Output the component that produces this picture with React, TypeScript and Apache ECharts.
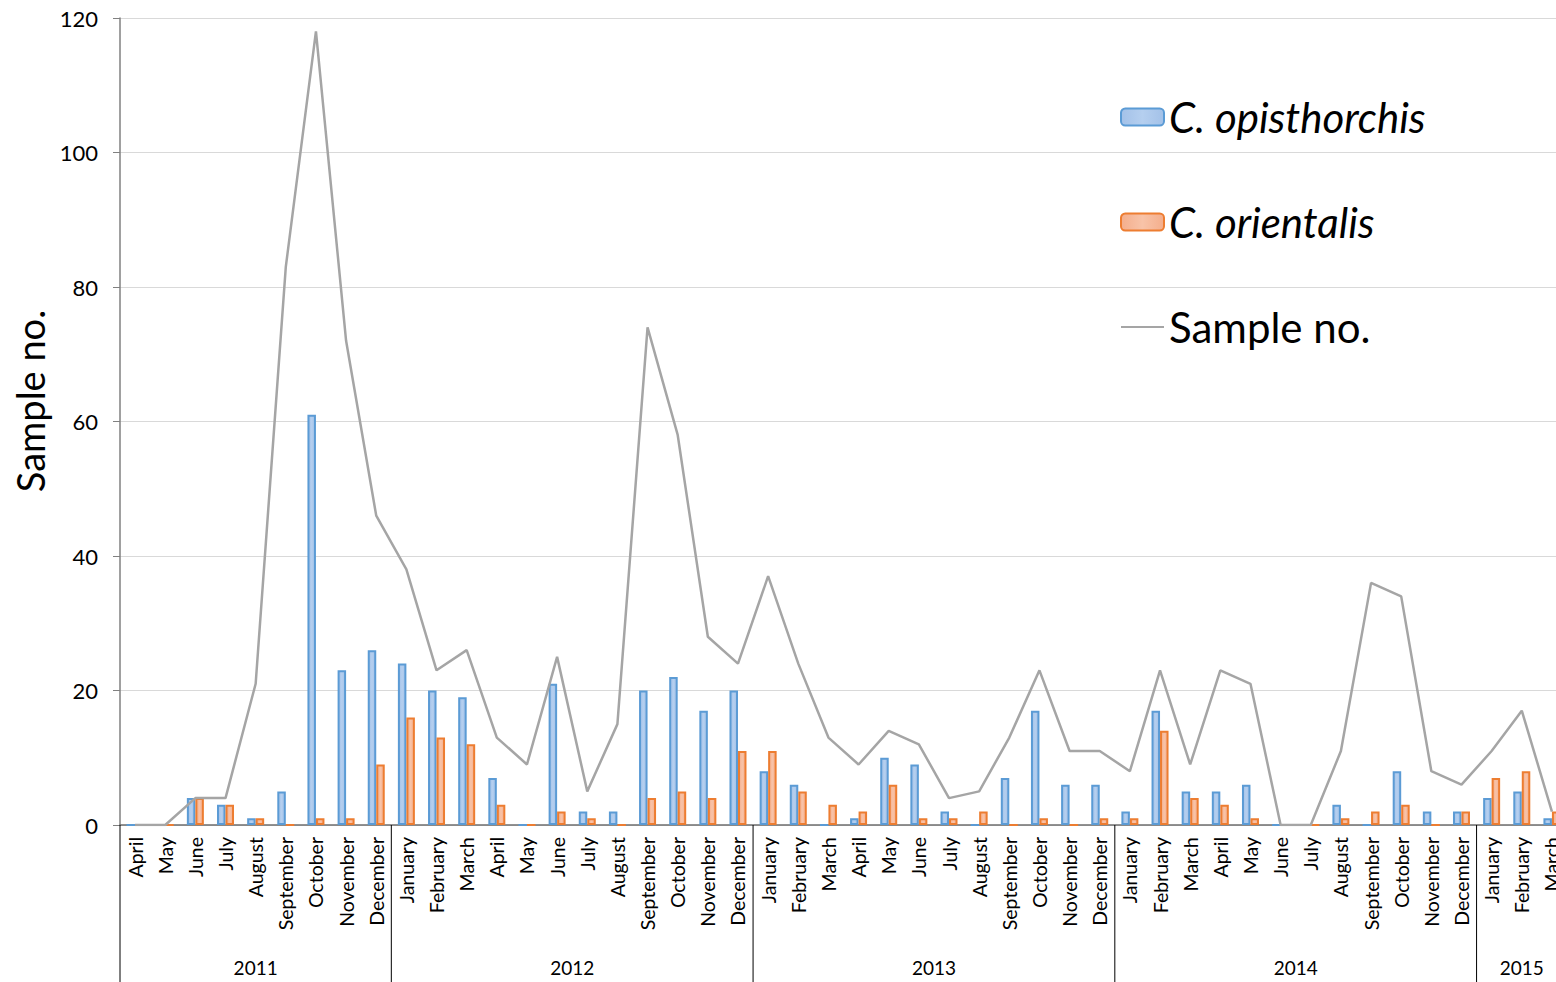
import React, { useEffect, useRef } from "react";
import * as echarts from "echarts";

const months = [
  "April", "May", "June", "July", "August", "September", "October", "November", "December",
  "January", "February", "March", "April", "May", "June", "July", "August", "September", "October", "November", "December",
  "January", "February", "March", "April", "May", "June", "July", "August", "September", "October", "November", "December",
  "January", "February", "March", "April", "May", "June", "July", "August", "September", "October", "November", "December",
  "January", "February", "March",
];
const years = ["2011", "2012", "2013", "2014", "2015"];
const monthsPerYear = [9, 12, 12, 12, 3];

const opisthorchis = [
  0, 0, 4, 3, 1, 5, 61, 23, 26,
  24, 20, 19, 7, 0, 21, 2, 2, 20, 22, 17, 20,
  8, 6, 0, 1, 10, 9, 2, 0, 7, 17, 6, 6,
  2, 17, 5, 5, 6, 0, 0, 3, 0, 8, 2, 2,
  4, 5, 1,
];
const orientalis = [
  0, 0, 4, 3, 1, 0, 1, 1, 9,
  16, 13, 12, 3, 0, 2, 1, 0, 4, 5, 4, 11,
  11, 5, 3, 2, 6, 1, 1, 2, 0, 1, 0, 1,
  1, 14, 4, 3, 1, 0, 0, 1, 2, 3, 0, 2,
  7, 8, 2,
];
const sampleNo = [
  0, 0, 4, 4, 21, 83, 118, 72, 46,
  38, 23, 26, 13, 9, 25, 5, 15, 74, 58, 28, 24,
  37, 24, 13, 9, 14, 12, 4, 5, 13, 23, 11, 11,
  8, 23, 9, 23, 21, 0, 0, 11, 36, 34, 8, 6,
  11, 17, 2,
];

const FONT = "Lato, 'Noto Sans', sans-serif";

export default function App() {
  const ref = useRef<HTMLDivElement>(null);

  useEffect(() => {
    if (!ref.current) return;
    const chart = echarts.init(ref.current, undefined, { renderer: "svg" });

    const yearSpans: number[][] = [];
    let start = 0;
    monthsPerYear.forEach((n) => {
      yearSpans.push([start, n]);
      start += n;
    });
    const total = start;

    const option: any = {
      animation: false,
      backgroundColor: "#ffffff",
      textStyle: { fontFamily: FONT },
      grid: {
        left: 120,
        top: 18,
        right: -11,
        bottom: 157,
        containLabel: false,
        outerBoundsMode: "none",
      },
      legend: {
        orient: "vertical",
        left: 1120,
        top: 96,
        padding: 0,
        itemWidth: 43,
        itemHeight: 17,
        itemGap: 63,
        textStyle: { fontSize: 42, color: "#000000", fontFamily: FONT, padding: [0, 0, 0, 0] },
        data: [
          { name: "C. opisthorchis", textStyle: { fontStyle: "italic" } },
          { name: "C. orientalis", textStyle: { fontStyle: "italic" } },
          { name: "Sample no.", itemStyle: { color: "rgba(0,0,0,0)", borderWidth: 0 } },
        ],
      },
      graphic: [
        {
          type: "text",
          x: 30,
          y: 401,
          rotation: Math.PI / 2,
          style: {
            text: "Sample no.",
            fontSize: 38,
            fontFamily: FONT,
            fill: "#000000",
            align: "center",
            verticalAlign: "middle",
          },
        },
      ],
      xAxis: [
        {
          type: "category",
          data: months,
          boundaryGap: true,
          axisLine: { show: true, lineStyle: { color: "#6e6e6e", width: 1.5 } },
          axisTick: { show: false },
          axisLabel: {
            rotate: 90,
            interval: 0,
            margin: 12,
            fontSize: 19.5,
            color: "#000000",
            fontFamily: FONT,
          },
          splitLine: { show: false },
        },
        {
          type: "value",
          min: 0,
          max: total,
          show: false,
        },
      ],
      yAxis: {
        type: "value",
        min: 0,
        max: 120,
        interval: 20,
        axisLine: { show: true, lineStyle: { color: "#808080", width: 1.5 } },
        axisTick: { show: true, inside: false, length: 7, lineStyle: { color: "#808080" } },
        axisLabel: { fontSize: 22, color: "#000000", margin: 22, fontFamily: FONT },
        splitLine: { show: true, lineStyle: { color: "#d9d9d9", width: 1 } },
      },
      series: [
        {
          name: "C. opisthorchis",
          type: "bar",
          data: opisthorchis,
          barWidth: 8.5,
          barGap: "0%",
          itemStyle: {
            color: new echarts.graphic.LinearGradient(0, 0, 1, 0, [
              { offset: 0, color: "#a3c1e8" },
              { offset: 0.5, color: "#b5cfef" },
              { offset: 1, color: "#a3c1e8" },
            ]),
            borderColor: "#5b9bd5",
            borderWidth: 2,
          },
        },
        {
          name: "C. orientalis",
          type: "bar",
          data: orientalis,
          barWidth: 8.5,
          barGap: "0%",
          itemStyle: {
            color: new echarts.graphic.LinearGradient(0, 0, 1, 0, [
              { offset: 0, color: "#f4ae8c" },
              { offset: 0.5, color: "#f8c3a8" },
              { offset: 1, color: "#f4ae8c" },
            ]),
            borderColor: "#ed7d31",
            borderWidth: 2,
          },
        },
        {
          name: "Sample no.",
          type: "line",
          data: sampleNo,
          symbol: "none",
          showSymbol: false,
          lineStyle: { color: "#a5a5a5", width: 2.5 },
          itemStyle: { color: "#a5a5a5" },
          z: 3,
        },
        {
          name: "years",
          type: "custom",
          xAxisIndex: 1,
          yAxisIndex: 0,
          clip: false,
          silent: true,
          data: yearSpans,
          renderItem: (params: any, api: any) => {
            const s = api.value(0);
            const n = api.value(1);
            const p0 = api.coord([s, 0]);
            const p1 = api.coord([s + n, 0]);
            const label = years[params.dataIndex];
            return {
              type: "group",
              children: [
                {
                  type: "line",
                  shape: { x1: p0[0], y1: p0[1], x2: p0[0], y2: p0[1] + 157 },
                  style: { stroke: "#000000", lineWidth: 1 },
                },
                {
                  type: "text",
                  x: (p0[0] + p1[0]) / 2,
                  y: p0[1] + 142,
                  style: {
                    text: label,
                    fontSize: 19,
                    fontFamily: FONT,
                    fill: "#000000",
                    align: "center",
                    verticalAlign: "middle",
                  },
                },
              ],
            };
          },
        },
      ],
    };

    chart.setOption(option);
    return () => chart.dispose();
  }, []);

  return (
    <div
      ref={ref}
      style={{ position: "absolute", left: 0, top: 0, width: 1556, height: 982, background: "#fff" }}
    />
  );
}
